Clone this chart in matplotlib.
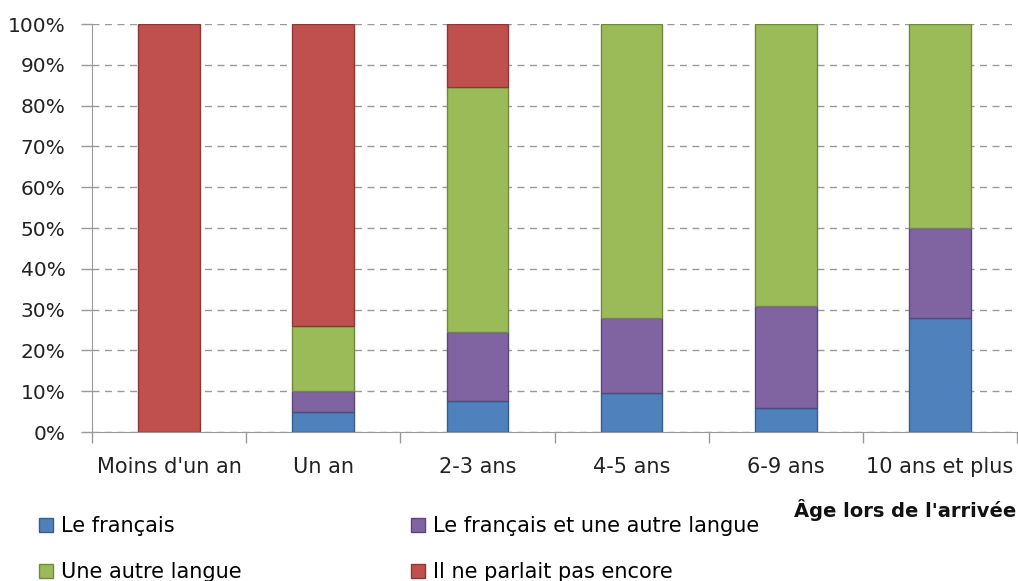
import matplotlib.pyplot as plt
import numpy as np

categories = ["Moins d'un an", "Un an", "2-3 ans", "4-5 ans", "6-9 ans", "10 ans et plus"]
francais = [0, 5, 7.5, 9.5, 6, 28]
francais_autre = [0, 5, 17, 18.5, 25, 22]
autre_langue = [0, 16, 60, 72, 69, 50]
pas_encore = [100, 74, 15.5, 0, 0, 0]

series = [
    ("Le français", francais, "#4F81BD", "#385D8A"),
    ("Le français et une autre langue", francais_autre, "#8064A2", "#5C4776"),
    ("Une autre langue", autre_langue, "#9BBB59", "#71893F"),
    ("Il ne parlait pas encore", pas_encore, "#C0504D", "#8C3836"),
]

fig = plt.figure(figsize=(10.18, 5.81), dpi=100)
ax = fig.add_axes([92 / 1018, 1 - 432 / 581, 925 / 1018, 408 / 581])

x = np.arange(len(categories))
bottom = np.zeros(len(categories))
handles = {}
for name, vals, col, edge in series:
    vals = np.array(vals, dtype=float)
    # no outline for empty segments
    edges = [edge if v > 0 else "none" for v in vals]
    ax.bar(x, vals, 0.4, bottom=bottom, color=col, edgecolor=edges, linewidth=1, zorder=3)
    handles[name] = plt.Rectangle((0, 0), 1, 1, facecolor=col, edgecolor=edge, linewidth=1)
    bottom += vals

ax.set_xlim(-0.5, len(categories) - 0.5)
ax.set_ylim(0, 100)
ax.set_yticks(np.arange(0, 101, 10))
ax.set_yticklabels([f"{v}%" for v in range(0, 101, 10)], fontsize=14.5, color="#222222")
ax.yaxis.grid(True, linestyle=(0, (5, 4)), color="#999999", linewidth=1, zorder=0)

ax.set_xticks(x)
ax.set_xticklabels(categories, fontsize=15, color="#222222")
ax.tick_params(axis="x", which="major", length=0, pad=18)
ax.set_xticks(np.arange(-0.5, len(categories)), minor=True)
ax.tick_params(axis="x", which="minor", length=8, color="#999999", width=1)
ax.tick_params(axis="y", length=8, color="#999999", width=1, pad=11)

for s in ["top", "right"]:
    ax.spines[s].set_visible(False)
for s in ["left", "bottom"]:
    ax.spines[s].set_color("#999999")

fig.text(1016 / 1018, 1 - 510 / 581, "Âge lors de l'arrivée", ha="right", va="center",
         fontsize=14, fontweight="bold", color="#111111")

order = ["Le français", "Une autre langue", "Le français et une autre langue", "Il ne parlait pas encore"]
fig.legend([handles[n] for n in order], order, ncol=2, loc="upper left",
           bbox_to_anchor=(39 / 1018, 1 - 516 / 581), frameon=False, fontsize=15,
           borderpad=0, borderaxespad=0,
           handlelength=0.67, handleheight=0.67, handletextpad=0.4, columnspacing=8.1,
           labelspacing=1.25)

fig.savefig("out.png", dpi=100)
